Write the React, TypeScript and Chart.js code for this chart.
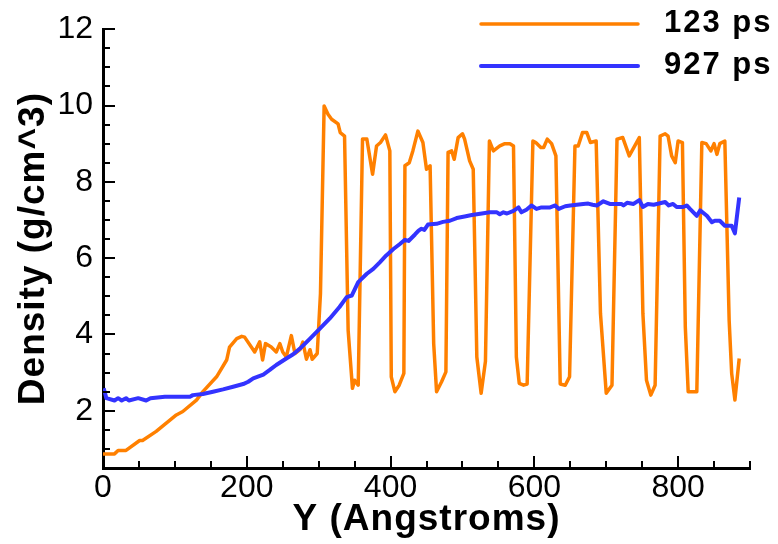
import React, { useEffect, useRef } from 'react';
import { Chart, registerables } from 'chart.js';

Chart.register(...registerables);

// ---- data ----
const seriesNames = ['123 ps', '927 ps'];
const xTitle = 'Y (Angstroms)';
const yTitle = 'Density (g/cm^3)';
const xTickValues = [0, 200, 400, 600, 800];
const yTickValues = [2, 4, 6, 8, 10, 12];

const orangeX = [
  0, 16, 21, 32, 51, 55, 74, 102, 111, 130, 139, 158, 172, 176, 186, 193, 197, 211, 218, 222,
  226, 234, 241, 246, 250, 255, 262, 267, 274, 278, 283, 288, 291, 298, 302.5, 307.6, 313, 318, 327, 330,
  336, 341, 347, 350, 355, 361, 367, 375, 380.5, 386, 393, 399, 401, 406, 412, 418.5, 420, 426, 431, 438,
  445, 450, 455, 460, 464, 471, 477, 480, 485, 488.5, 494, 500, 503, 510, 515, 520, 526, 532, 537.5, 543,
  552, 559, 566, 571, 575, 579, 585, 590, 598, 602, 609, 613, 618, 624, 630, 636, 643, 649, 656.5, 661,
  667, 673, 678, 686, 692, 700, 708, 715, 723, 732, 746, 751, 756, 762, 768, 775, 782, 786, 791, 796,
  800, 806, 810, 814, 826, 833, 839, 845.5, 850, 854, 858, 865, 871, 874.5, 879, 885,
];
const orangeY = [
  0.87, 0.87, 0.96, 0.96, 1.22, 1.22, 1.46, 1.89, 1.98, 2.28, 2.5, 2.89, 3.33, 3.67, 3.89, 3.95, 3.93, 3.54, 3.81, 3.33,
  3.76, 3.67, 3.54, 3.76, 3.54, 3.41, 3.97, 3.5, 3.6, 3.8, 3.35, 3.6, 3.35, 3.5, 5.07, 9.99, 9.77, 9.64, 9.52, 9.29,
  9.2, 4.11, 2.59, 2.8, 2.67, 9.12, 9.12, 8.2, 8.94, 9.03, 9.23, 8.81, 2.89, 2.5, 2.67, 2.98, 8.42, 8.5, 8.81, 9.33,
  9.03, 8.33, 8.42, 3.76, 2.5, 2.76, 3.02, 8.77, 8.81, 8.59, 9.16, 9.26, 9.12, 8.55, 8.33, 3.41, 2.46, 3.3, 9.07, 8.81,
  8.94, 9.0, 9.0, 8.94, 3.41, 2.72, 2.67, 2.7, 9.07, 9.03, 8.9, 8.9, 9.12, 9.0, 8.68, 2.7, 2.67, 2.89, 8.94, 8.94,
  9.29, 9.29, 9.03, 9.07, 4.55, 2.46, 2.67, 9.12, 9.16, 8.68, 9.16, 4.55, 2.8, 2.41, 2.67, 9.2, 9.26, 9.2, 8.68, 8.5,
  9.07, 9.03, 4.2, 2.5, 2.5, 9.03, 9.0, 8.81, 9.0, 8.72, 9.0, 9.07, 4.37, 2.98, 2.28, 3.37,
];

const blueX = [
  1, 4.7, 16, 21, 26, 32, 36, 49, 60, 66, 86, 121, 125, 139, 153, 167, 181, 195, 202, 209,
  223, 232, 241, 255, 264.6, 274, 288, 302, 315.5, 329, 339, 346, 355, 367, 376, 385, 394, 404, 413, 420,
  425, 434, 439, 443, 447, 452, 464, 473, 482.5, 492, 503, 513, 527, 538, 548, 552, 557, 562, 571, 578,
  582, 589, 596, 603, 610, 622, 629, 634, 643, 650, 659, 668, 675, 681, 687, 696, 705, 721, 724, 729,
  738, 746, 751, 758, 766, 782, 787, 793, 798, 807, 812, 816.5, 826, 830.6, 840, 847, 851, 858, 865, 874.5,
  879, 885,
];
const blueY = [
  2.59, 2.33, 2.27, 2.33, 2.27, 2.33, 2.27, 2.33, 2.27, 2.33, 2.37, 2.37, 2.41, 2.44, 2.5, 2.56, 2.63, 2.7, 2.76, 2.85,
  2.95, 3.07, 3.2, 3.37, 3.48, 3.63, 3.89, 4.16, 4.42, 4.72, 4.98, 5.02, 5.37, 5.59, 5.72, 5.89, 6.07, 6.24, 6.37, 6.48,
  6.45, 6.62, 6.72, 6.77, 6.74, 6.88, 6.9, 6.95, 6.98, 7.05, 7.09, 7.13, 7.17, 7.2, 7.2, 7.15, 7.2, 7.17, 7.24, 7.33,
  7.2, 7.27, 7.38, 7.29, 7.33, 7.33, 7.38, 7.29, 7.36, 7.38, 7.4, 7.42, 7.43, 7.4, 7.38, 7.49, 7.42, 7.42, 7.38, 7.45,
  7.42, 7.52, 7.34, 7.42, 7.4, 7.47, 7.38, 7.42, 7.34, 7.34, 7.38, 7.29, 7.11, 7.25, 7.11, 6.94, 6.98, 6.98, 6.85, 6.85,
  6.65, 7.59,
];

const ORANGE = '#ff8000';
const BLUE = '#3333ff';
const FONT = '"Liberation Sans", Arial, Helvetica, sans-serif';

const toPoints = (xs: number[], ys: number[]) => xs.map((x, i) => ({ x, y: ys[i] }));

const decorPlugin = {
  id: 'decor',
  afterDatasetsDraw(chart: any) {
    const { ctx, chartArea, scales } = chart;
    const xs = scales.x;
    const ys = scales.y;
    ctx.save();
    ctx.strokeStyle = '#000';
    ctx.lineWidth = 2;
    // inward x ticks (major every 200, minor every 50)
    for (let v = 50; v <= xs.max + 0.001; v += 50) {
      const major = v % 200 === 0;
      const px = Math.round(xs.getPixelForValue(v));
      ctx.beginPath();
      ctx.moveTo(px, chartArea.bottom);
      ctx.lineTo(px, chartArea.bottom - (major ? 12 : 7));
      ctx.stroke();
    }
    // inward y ticks (major every 2, minor every 0.5)
    for (let v = 1; v <= ys.max + 0.001; v += 0.5) {
      const major = v % 2 === 0;
      const py = Math.round(ys.getPixelForValue(v));
      ctx.beginPath();
      ctx.moveTo(chartArea.left, py);
      ctx.lineTo(chartArea.left + (major ? 12 : 7), py);
      ctx.stroke();
    }

    // axis titles
    ctx.fillStyle = '#000';
    ctx.textBaseline = 'middle';
    ctx.textAlign = 'center';
    ctx.font = `bold 37px ${FONT}`;
    (ctx as any).letterSpacing = '1px';
    ctx.fillText(xTitle, (chartArea.left + chartArea.right) / 2, 520);
    ctx.save();
    ctx.translate(34, (chartArea.top + chartArea.bottom) / 2);
    ctx.rotate(-Math.PI / 2);
    ctx.fillText(yTitle, 0, 0);
    ctx.restore();

    // legend
    const colors = [ORANGE, BLUE];
    const widths = [3.5, 4];
    const rows = [24, 66];
    ctx.lineCap = 'round';
    ctx.font = `bold 31px ${FONT}`;
    (ctx as any).letterSpacing = '2px';
    ctx.textAlign = 'left';
    seriesNames.forEach((name, i) => {
      ctx.strokeStyle = colors[i];
      ctx.lineWidth = widths[i];
      ctx.beginPath();
      ctx.moveTo(481, rows[i]);
      ctx.lineTo(638, rows[i]);
      ctx.stroke();
      ctx.fillText(name, 664, rows[i] - 1);
    });
    (ctx as any).letterSpacing = '0px';
    ctx.restore();
  },
};

export default function App() {
  const canvasRef = useRef<HTMLCanvasElement | null>(null);

  useEffect(() => {
    const canvas = canvasRef.current;
    if (!canvas) return;
    const chart = new Chart(canvas, {
      type: 'line',
      data: {
        datasets: [
          {
            label: seriesNames[0],
            data: toPoints(orangeX, orangeY),
            borderColor: ORANGE,
            backgroundColor: ORANGE,
            borderWidth: 3.5,
            pointRadius: 0,
            tension: 0,
            borderJoinStyle: 'round',
            order: 2,
          },
          {
            label: seriesNames[1],
            data: toPoints(blueX, blueY),
            borderColor: BLUE,
            backgroundColor: BLUE,
            borderWidth: 4,
            pointRadius: 0,
            tension: 0,
            borderJoinStyle: 'round',
            order: 1,
          },
        ],
      },
      options: {
        responsive: false,
        animation: false,
        devicePixelRatio: 1,
        layout: { padding: { top: 27, right: 28, left: 0, bottom: 0 } },
        plugins: {
          legend: { display: false },
          tooltip: { enabled: false },
        },
        scales: {
          x: {
            type: 'linear',
            min: 0,
            max: 900,
            grid: { display: false, drawTicks: false },
            border: { display: true, color: '#000', width: 3 },
            afterBuildTicks: (scale: any) => {
              scale.ticks = xTickValues.map((v) => ({ value: v }));
            },
            afterFit: (scale: any) => {
              scale.height = 76;
            },
            ticks: {
              autoSkip: false,
              maxRotation: 0,
              padding: 1,
              color: '#000',
              font: { family: FONT, size: 32 },
            },
            title: { display: false },
          },
          y: {
            type: 'linear',
            min: 0.5,
            max: 12,
            grid: { display: false, drawTicks: false },
            border: { display: true, color: '#000', width: 3 },
            afterBuildTicks: (scale: any) => {
              scale.ticks = yTickValues.map((v) => ({ value: v }));
            },
            afterFit: (scale: any) => {
              scale.width = 103;
            },
            ticks: {
              autoSkip: false,
              padding: 10,
              color: '#000',
              font: { family: FONT, size: 32 },
            },
            title: { display: false },
          },
        },
      },
      plugins: [decorPlugin],
    });
    return () => chart.destroy();
  }, []);

  return (
    <div style={{ position: 'absolute', left: 0, top: 0, width: 778, height: 544, background: '#fff' }}>
      <canvas ref={canvasRef} width={778} height={544} />
    </div>
  );
}
